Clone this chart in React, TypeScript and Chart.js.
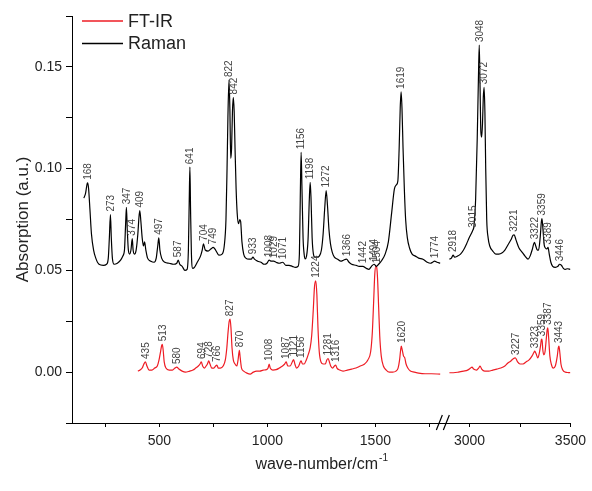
import React, { useEffect, useRef } from 'react';
import { Chart, registerables } from 'chart.js';

Chart.register(...registerables);

const FONT = '"Liberation Sans", Arial, Helvetica, sans-serif';

// Raman spectrum, low-wavenumber segment [cm-1, a.u.]
const ramanLow: [number, number][] = [
  [150, 0.0855], [158, 0.088], [165, 0.0925], [168, 0.093], [172, 0.09], [178, 0.08], [185, 0.068],
  [195, 0.06], [205, 0.056], [220, 0.053], [240, 0.0525], [255, 0.053], [263, 0.056], [268, 0.066],
  [273, 0.0774], [277, 0.066], [282, 0.056], [290, 0.053], [305, 0.0535], [320, 0.055], [330, 0.057],
  [338, 0.06], [343, 0.072], [347, 0.081], [351, 0.07], [356, 0.06], [362, 0.058], [368, 0.06],
  [374, 0.0656], [378, 0.06], [384, 0.058], [392, 0.06], [400, 0.068], [405, 0.076], [409, 0.0794],
  [414, 0.074], [420, 0.066], [426, 0.062], [431, 0.064], [437, 0.06], [445, 0.056], [460, 0.0545],
  [475, 0.054], [485, 0.056], [492, 0.062], [497, 0.066], [502, 0.06], [510, 0.056], [525, 0.054],
  [545, 0.0535], [565, 0.053], [580, 0.0535], [587, 0.055], [594, 0.053], [605, 0.052], [618, 0.05],
  [628, 0.0505], [634, 0.06], [638, 0.085], [641, 0.1007], [644, 0.08], [648, 0.058], [654, 0.051],
  [662, 0.0515], [675, 0.054], [690, 0.057], [698, 0.06], [704, 0.063], [712, 0.06], [725, 0.0595],
  [738, 0.0605], [749, 0.0613], [760, 0.06], [775, 0.0575], [790, 0.058], [800, 0.062], [808, 0.075],
  [813, 0.1], [817, 0.125], [822, 0.1435], [826, 0.13], [830, 0.105], [834, 0.11], [838, 0.128],
  [842, 0.135], [846, 0.128], [850, 0.11], [855, 0.09], [860, 0.078], [866, 0.073], [872, 0.075],
  [876, 0.074], [882, 0.064], [890, 0.058], [900, 0.056], [915, 0.0555], [925, 0.0555], [933, 0.0565],
  [940, 0.0555], [955, 0.0545], [970, 0.054], [985, 0.053], [998, 0.0535], [1008, 0.055], [1018, 0.0545],
  [1029, 0.0545], [1040, 0.054], [1055, 0.0535], [1071, 0.054], [1085, 0.0525], [1100, 0.0525],
  [1115, 0.052], [1130, 0.0515], [1142, 0.052], [1148, 0.058], [1152, 0.085], [1156, 0.108],
  [1160, 0.09], [1165, 0.066], [1170, 0.058], [1175, 0.0557], [1181, 0.057], [1188, 0.065],
  [1194, 0.085], [1198, 0.0933], [1202, 0.085], [1207, 0.066], [1213, 0.058], [1220, 0.0565],
  [1230, 0.0565], [1240, 0.057], [1250, 0.06], [1258, 0.068], [1265, 0.08], [1272, 0.0892],
  [1278, 0.082], [1285, 0.07], [1292, 0.063], [1300, 0.059], [1310, 0.0565], [1325, 0.0555],
  [1340, 0.0545], [1352, 0.055], [1366, 0.0555], [1378, 0.054], [1390, 0.053], [1410, 0.0525],
  [1425, 0.052], [1442, 0.052], [1458, 0.051], [1470, 0.0505], [1482, 0.052], [1494, 0.053],
  [1505, 0.052], [1515, 0.053], [1530, 0.055], [1545, 0.058], [1560, 0.064], [1575, 0.078],
  [1588, 0.09], [1597, 0.092], [1604, 0.094], [1610, 0.11], [1615, 0.13], [1619, 0.1377],
  [1623, 0.13], [1628, 0.11], [1634, 0.09], [1640, 0.075], [1648, 0.066], [1658, 0.061],
  [1670, 0.058], [1685, 0.057], [1700, 0.056], [1720, 0.0555], [1740, 0.054], [1755, 0.0535],
  [1765, 0.054], [1774, 0.0545], [1785, 0.054], [1800, 0.0535],
];

// Raman spectrum, high-wavenumber segment
const ramanHigh: [number, number][] = [
  [2900, 0.0555], [2910, 0.056], [2918, 0.0575], [2926, 0.0565], [2940, 0.057], [2955, 0.058],
  [2970, 0.06], [2985, 0.063], [2998, 0.066], [3008, 0.068], [3015, 0.0695], [3022, 0.072],
  [3030, 0.085], [3038, 0.115], [3044, 0.145], [3048, 0.1607], [3052, 0.14], [3056, 0.118],
  [3060, 0.1155], [3064, 0.122], [3068, 0.135], [3072, 0.14], [3076, 0.128], [3080, 0.1],
  [3085, 0.075], [3092, 0.066], [3100, 0.062], [3115, 0.0595], [3130, 0.058], [3145, 0.058],
  [3160, 0.0585], [3175, 0.06], [3190, 0.0625], [3205, 0.065], [3215, 0.0672], [3221, 0.0675],
  [3230, 0.065], [3245, 0.061], [3260, 0.059], [3275, 0.057], [3290, 0.0555], [3300, 0.057],
  [3310, 0.06], [3318, 0.063], [3322, 0.0638], [3328, 0.062], [3336, 0.06], [3342, 0.06],
  [3350, 0.066], [3356, 0.074], [3359, 0.0755], [3364, 0.07], [3370, 0.0625], [3376, 0.061],
  [3383, 0.0605], [3389, 0.0613], [3395, 0.058], [3403, 0.054], [3412, 0.052], [3425, 0.0515],
  [3438, 0.052], [3446, 0.053], [3455, 0.0525], [3465, 0.051], [3475, 0.0505], [3485, 0.0508],
  [3500, 0.0505],
];

// FT-IR spectrum, low-wavenumber segment
const irLow: [number, number][] = [
  [400, 0.0005], [410, 0.001], [420, 0.002], [428, 0.004], [435, 0.005], [442, 0.003], [452, 0.001],
  [465, 0.001], [478, 0.002], [490, 0.003], [498, 0.006], [505, 0.01], [510, 0.013], [513, 0.0137],
  [517, 0.011], [522, 0.005], [530, 0.002], [545, 0.001], [560, 0.001], [572, 0.002], [580, 0.0025],
  [590, 0.0015], [605, 0.0005], [620, 0], [640, 0.0005], [655, 0.001], [668, 0.002], [680, 0.003],
  [688, 0.004], [694, 0.005], [700, 0.003], [708, 0.002], [716, 0.003], [722, 0.004], [728, 0.0055],
  [734, 0.004], [742, 0.002], [752, 0.002], [760, 0.003], [766, 0.0035], [772, 0.002], [782, 0.002],
  [795, 0.003], [805, 0.006], [812, 0.012], [818, 0.02], [823, 0.025], [827, 0.026], [831, 0.022],
  [836, 0.012], [842, 0.006], [850, 0.004], [858, 0.003], [864, 0.006], [870, 0.0107], [874, 0.007],
  [880, 0.002], [890, 0.0005], [905, -0.0005], [920, -0.001], [935, 0], [950, 0.0005], [965, 0.0005],
  [980, 0.001], [995, 0.0012], [1003, 0.002], [1008, 0.004], [1013, 0.002], [1025, 0.001],
  [1040, 0.0012], [1055, 0.002], [1070, 0.003], [1080, 0.004], [1087, 0.005], [1094, 0.003],
  [1105, 0.003], [1115, 0.005], [1121, 0.0062], [1127, 0.004], [1135, 0.002], [1145, 0.003],
  [1152, 0.005], [1156, 0.0055], [1162, 0.004], [1170, 0.004], [1180, 0.006], [1190, 0.009],
  [1198, 0.012], [1205, 0.018], [1212, 0.03], [1218, 0.042], [1224, 0.0449], [1229, 0.038],
  [1234, 0.022], [1240, 0.01], [1248, 0.005], [1258, 0.004], [1268, 0.004], [1275, 0.006],
  [1281, 0.0067], [1287, 0.005], [1293, 0.003], [1302, 0.002], [1310, 0.003], [1316, 0.0035],
  [1322, 0.002], [1335, 0.001], [1350, 0.0005], [1370, 0.001], [1390, 0.0015], [1410, 0.002],
  [1430, 0.003], [1450, 0.004], [1465, 0.006], [1478, 0.01], [1486, 0.02], [1492, 0.035],
  [1497, 0.048], [1502, 0.052], [1506, 0.0515], [1510, 0.046], [1515, 0.032], [1520, 0.018],
  [1527, 0.008], [1537, 0.003], [1550, 0.001], [1565, 0], [1580, 0], [1595, 0.0005], [1605, 0.002],
  [1612, 0.006], [1617, 0.011], [1620, 0.0128], [1624, 0.011], [1630, 0.008], [1636, 0.007],
  [1642, 0.004], [1650, 0.002], [1662, 0.0005], [1680, 0], [1700, -0.0005], [1730, -0.0008],
  [1760, -0.0008], [1800, -0.001],
];

// FT-IR spectrum, high-wavenumber segment
const irHigh: [number, number][] = [
  [2900, -0.0003], [2920, -0.0003], [2945, 0], [2970, 0.0005], [2990, 0.001], [3005, 0.002],
  [3012, 0.0025], [3020, 0.0015], [3035, 0.001], [3045, 0.002], [3052, 0.003], [3060, 0.0015],
  [3075, 0.0005], [3095, 0.0005], [3115, 0.001], [3135, 0.0015], [3155, 0.002], [3175, 0.003],
  [3190, 0.0045], [3205, 0.0055], [3215, 0.0065], [3227, 0.007], [3238, 0.005], [3250, 0.004],
  [3265, 0.004], [3280, 0.005], [3295, 0.006], [3310, 0.008], [3318, 0.0095], [3323, 0.0103],
  [3330, 0.009], [3338, 0.007], [3345, 0.009], [3352, 0.013], [3356, 0.016], [3359, 0.0162],
  [3363, 0.011], [3368, 0.0085], [3374, 0.01], [3380, 0.016], [3385, 0.021], [3388, 0.0218],
  [3392, 0.017], [3398, 0.008], [3405, 0.004], [3415, 0.002], [3425, 0.003], [3435, 0.008],
  [3440, 0.012], [3443, 0.0128], [3447, 0.01], [3453, 0.004], [3462, 0.001], [3475, 0],
  [3490, -0.0002], [3500, -0.0003],
];

// Peak annotations
const ramanPeaksLow = [168, 273, 347, 374, 409, 497, 587, 641, 704, 749, 822, 842, 933, 1008, 1029, 1071, 1156, 1198, 1272, 1366, 1442, 1494, 1619, 1774];
const ramanPeaksHigh = [2918, 3015, 3048, 3072, 3221, 3322, 3359, 3389, 3446];
const irPeaksLow = [435, 513, 580, 694, 728, 766, 827, 870, 1008, 1087, 1121, 1156, 1224, 1281, 1316, 1504, 1620];
const irPeaksHigh = [3227, 3323, 3359, 3387, 3443];

// Axis ranges & ticks
const xLowRange = [95, 1810];
const xHighRange = [2865, 3500];
const xLowTicks = [250, 500, 750, 1000, 1250, 1500, 1750];
const xHighTicks = [3000, 3250, 3500];
const xLabelStep = 500;
const yRange = [-0.025, 0.175];
const yTicks = [-0.025, 0, 0.025, 0.05, 0.075, 0.1, 0.125, 0.15, 0.175];
const yLabelStep = 0.05;

const series = [
  { label: 'FT-IR', color: '#ee1c24' },
  { label: 'Raman', color: '#000000' },
];

function valueAt(data: { x: number; y: number }[], w: number): number {
  let best = -Infinity;
  for (const p of data) if (Math.abs(p.x - w) <= 4) best = Math.max(best, p.y);
  for (let i = 0; i < data.length - 1; i++) {
    const a = data[i], b = data[i + 1];
    if (a.x <= w && b.x >= w) {
      const v = a.y + ((b.y - a.y) * (w - a.x)) / (b.x - a.x);
      best = Math.max(best, v);
    }
  }
  return best;
}

const decorPlugin = {
  id: 'decor',
  afterDatasetsDraw(chart: any) {
    const ctx: CanvasRenderingContext2D = chart.ctx;
    const ys = chart.scales.y;
    const area = chart.chartArea;
    ctx.save();
    // peak labels
    ctx.font = `10px ${FONT}`;
    ctx.fillStyle = '#444';
    ctx.textAlign = 'left';
    ctx.textBaseline = 'middle';
    chart.data.datasets.forEach((ds: any) => {
      if (!ds.peaks) return;
      const xs = chart.scales[ds.xAxisID];
      ds.peaks.forEach((w: number) => {
        const v = valueAt(ds.data, w);
        const px = xs.getPixelForValue(w);
        const py = ys.getPixelForValue(v) - 3;
        ctx.save();
        ctx.translate(px, py);
        ctx.rotate(-Math.PI / 2);
        ctx.fillText(String(w), 0, 0.5);
        ctx.restore();
      });
    });
    // legend
    ctx.font = `18px ${FONT}`;
    ctx.textBaseline = 'middle';
    series.forEach((s, i) => {
      const ly = area.top + 5 + i * 22.5;
      ctx.strokeStyle = s.color;
      ctx.lineWidth = 1.3;
      ctx.beginPath();
      ctx.moveTo(area.left + 10, ly);
      ctx.lineTo(area.left + 51, ly);
      ctx.stroke();
      ctx.fillStyle = '#222';
      ctx.fillText(s.label, area.left + 56, ly + 1);
    });
    // axis titles
    ctx.fillStyle = '#222';
    ctx.font = `17px ${FONT}`;
    ctx.textAlign = 'center';
    ctx.save();
    ctx.translate(23, (area.top + area.bottom) / 2);
    ctx.rotate(-Math.PI / 2);
    ctx.fillText('Absorption (a.u.)', 0, 0);
    ctx.restore();
    const main = 'wave-number/cm';
    ctx.font = `16px ${FONT}`;
    const mw = ctx.measureText(main).width;
    ctx.font = `10px ${FONT}`;
    const sw = ctx.measureText('-1').width;
    const cx = (area.left + area.right) / 2;
    const startX = cx - (mw + sw) / 2;
    ctx.textAlign = 'left';
    ctx.font = `16px ${FONT}`;
    ctx.fillText(main, startX, 465);
    ctx.font = `10px ${FONT}`;
    ctx.fillText('-1', startX + mw + 1, 458);
    // axis break marks
    const bx = chart.scales.xLow.right;
    const by = area.bottom;
    ctx.strokeStyle = '#000';
    ctx.lineWidth = 1.2;
    ctx.beginPath();
    ctx.moveTo(bx - 6, by + 7);
    ctx.lineTo(bx, by - 8);
    ctx.moveTo(bx + 1, by + 7);
    ctx.lineTo(bx + 7, by - 8);
    ctx.stroke();
    ctx.restore();
  },
};

function xScale(range: number[], tickValues: number[], weight: number) {
  return {
    type: 'linear' as const,
    position: 'bottom' as const,
    stack: 'wavenumber',
    stackWeight: weight,
    min: range[0],
    max: range[1],
    afterFit: (s: any) => { s.height = 68; },
    afterBuildTicks: (s: any) => { s.ticks = tickValues.map((value) => ({ value })); },
    border: { display: true, color: '#000', width: 1 },
    grid: { display: true, drawOnChartArea: false, drawTicks: true, tickLength: 4, color: '#000', lineWidth: 1 },
    ticks: {
      autoSkip: false,
      maxRotation: 0,
      minRotation: 0,
      padding: 6,
      color: '#222',
      font: { size: 14, family: FONT },
      callback: (v: any) => (Math.round(Number(v)) % xLabelStep === 0 ? String(Math.round(Number(v))) : ''),
    },
  };
}

export default function App() {
  const ref = useRef<HTMLCanvasElement | null>(null);
  useEffect(() => {
    if (!ref.current) return;
    const toXY = (arr: [number, number][]) => arr.map(([x, y]) => ({ x, y }));
    const common = { pointRadius: 0, borderWidth: 1.2, fill: false, cubicInterpolationMode: 'monotone' as const };
    const chart = new Chart(ref.current, {
      type: 'line',
      data: {
        datasets: [
          { ...common, label: 'Raman', data: toXY(ramanLow), borderColor: series[1].color, xAxisID: 'xLow', yAxisID: 'y', peaks: ramanPeaksLow } as any,
          { ...common, label: 'Raman', data: toXY(ramanHigh), borderColor: series[1].color, xAxisID: 'xHigh', yAxisID: 'y', peaks: ramanPeaksHigh } as any,
          { ...common, label: 'FT-IR', data: toXY(irLow), borderColor: series[0].color, xAxisID: 'xLow', yAxisID: 'y', peaks: irPeaksLow } as any,
          { ...common, label: 'FT-IR', data: toXY(irHigh), borderColor: series[0].color, xAxisID: 'xHigh', yAxisID: 'y', peaks: irPeaksHigh } as any,
        ],
      },
      options: {
        animation: false,
        responsive: false,
        layout: { padding: { left: 0, right: 18, top: 16, bottom: 0 } },
        plugins: { legend: { display: false }, tooltip: { enabled: false } },
        scales: {
          xLow: xScale(xLowRange, xLowTicks, 373),
          xHigh: xScale(xHighRange, xHighTicks, 129),
          y: {
            type: 'linear',
            position: 'left',
            min: yRange[0],
            max: yRange[1],
            afterFit: (s: any) => { s.width = 72; },
            afterBuildTicks: (s: any) => { s.ticks = yTicks.map((value) => ({ value })); },
            border: { display: true, color: '#000', width: 1 },
            grid: { display: true, drawOnChartArea: false, drawTicks: true, tickLength: 6, color: '#000', lineWidth: 1 },
            ticks: {
              autoSkip: false,
              padding: 4,
              color: '#222',
              font: { size: 14, family: FONT },
              callback: (v: any) => {
                const num = Number(v);
                const n = num / yLabelStep;
                if (Math.abs(n - Math.round(n)) > 1e-6) return '';
                return (Math.abs(num) < 1e-9 ? 0 : num).toFixed(2);
              },
            },
          },
        },
      } as any,
      plugins: [decorPlugin],
    });
    return () => chart.destroy();
  }, []);
  return (
    <div style={{ position: 'absolute', left: 0, top: 0, width: 592, height: 491, background: '#fff' }}>
      <canvas ref={ref} width={592} height={491} style={{ display: 'block' }} />
    </div>
  );
}
